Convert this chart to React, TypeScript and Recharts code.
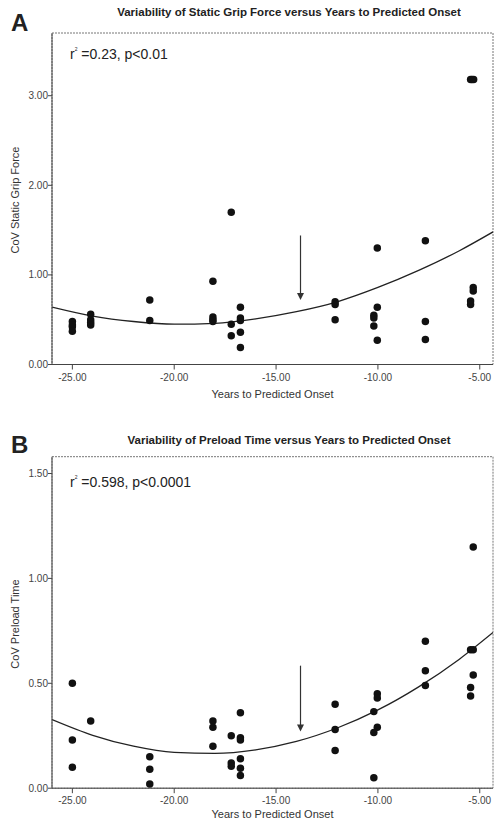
import React from "react";
import {
  ComposedChart,
  Scatter,
  Line,
  XAxis,
  YAxis,
  ZAxis,
  ReferenceArea,
  ReferenceLine,
} from "recharts";

// years to predicted onset, shared x ticks
const yearTicks = [-25, -20, -15, -10, -5];
const yearDomain: [number, number] = [-26, -4.35];

// Panel A: CoV static grip force
const gripYears = [
  -25, -25, -25, -25,
  -24.1, -24.1, -24.1, -24.1,
  -21.2, -21.2,
  -18.1, -18.1, -18.1, -18.1,
  -17.2, -17.2, -17.2,
  -16.75, -16.75, -16.75, -16.75, -16.75,
  -12.1, -12.1, -12.1,
  -10.2, -10.2, -10.2,
  -10.03, -10.03, -10.03,
  -7.67, -7.67, -7.67,
  -5.32, -5.32, -5.45, -5.45,
  -5.45, -5.38, -5.3,
];
const gripCov = [
  0.48, 0.44, 0.42, 0.37,
  0.56, 0.5, 0.47, 0.44,
  0.72, 0.49,
  0.93, 0.53, 0.5, 0.48,
  1.7, 0.45, 0.32,
  0.64, 0.52, 0.49, 0.36, 0.19,
  0.7, 0.67, 0.5,
  0.55, 0.52, 0.43,
  1.3, 0.64, 0.27,
  1.38, 0.48, 0.28,
  0.86, 0.82, 0.71, 0.67,
  3.18, 3.18, 3.18,
];
const gripFitYears = [-26, -24, -22, -20, -18, -16, -14, -12, -10, -8, -6, -4.35];
const gripFitCov = [0.64, 0.54, 0.48, 0.45, 0.46, 0.51, 0.59, 0.7, 0.86, 1.05, 1.27, 1.48];
const gripTicks = [0, 1, 2, 3];

// Panel B: CoV preload time
const preloadYears = [
  -25, -25, -25,
  -24.1,
  -21.2, -21.2, -21.2,
  -18.1, -18.1, -18.1,
  -17.2, -17.2, -17.2,
  -16.75, -16.75, -16.75, -16.75, -16.75, -16.75,
  -12.1, -12.1, -12.1,
  -10.03, -10.03, -10.03,
  -10.2, -10.2, -10.2,
  -7.67, -7.67, -7.67,
  -5.45, -5.32, -5.32, -5.32, -5.45, -5.45,
];
const preloadCov = [
  0.5, 0.23, 0.1,
  0.32,
  0.15, 0.09, 0.02,
  0.32, 0.29, 0.2,
  0.25, 0.12, 0.105,
  0.36, 0.24, 0.23, 0.14, 0.095, 0.06,
  0.4, 0.28, 0.18,
  0.45, 0.43, 0.29,
  0.365, 0.265, 0.05,
  0.7, 0.56, 0.49,
  0.66, 0.66, 1.15, 0.54, 0.48, 0.44,
];
const preloadFitYears = [-26, -24, -22, -20, -18, -16, -14, -12, -10, -8, -6, -4.35];
const preloadFitCov = [0.327, 0.252, 0.2, 0.171, 0.166, 0.183, 0.223, 0.287, 0.373, 0.483, 0.615, 0.742];
const preloadTicks = [0, 0.5, 1, 1.5];

// onset marker arrows: [year, from, to]
const gripArrow = [-13.8, 1.44, 0.72];
const preloadArrow = [-13.8, 0.584, 0.27];

const pair = (xs: number[], ys: number[]) => xs.map((x, i) => ({ x, y: ys[i] }));

const FONT = "'Liberation Sans', Arial, sans-serif";

const Arrow = (props: any) => {
  const { x1, y1, x2, y2 } = props;
  if (x1 == null) return null;
  return (
    <g>
      <line x1={x1} y1={y1} x2={x2} y2={y2 - 6} stroke="#333" strokeWidth={1.2} />
      <polygon points={`${x2 - 3.5},${y2 - 7} ${x2 + 3.5},${y2 - 7} ${x2},${y2}`} fill="#333" />
    </g>
  );
};

function Panel({
  points,
  fit,
  yMax,
  yTicks,
  arrow,
  marginTop,
  height,
}: {
  points: { x: number; y: number }[];
  fit: { x: number; y: number }[];
  yMax: number;
  yTicks: number[];
  arrow: number[];
  marginTop: number;
  height: number;
}) {
  const plotBottom = marginTop + 331.5;
  return (
    <ComposedChart
      width={494}
      height={height}
      margin={{ top: marginTop, right: 1, left: 0, bottom: height - plotBottom - 30 }}
    >
      <XAxis
        type="number"
        dataKey="x"
        domain={yearDomain}
        ticks={yearTicks}
        allowDataOverflow
        tickFormatter={(v) => Number(v).toFixed(2)}
        tick={{ fontSize: 10, fill: "#444", fontFamily: FONT }}
        tickSize={5}
        tickMargin={4}
        height={30}
        axisLine={{ stroke: "#444" }}
        tickLine={{ stroke: "#444" }}
      />
      <YAxis
        type="number"
        dataKey="y"
        domain={[0, yMax]}
        ticks={yTicks}
        allowDataOverflow
        tickFormatter={(v) => Number(v).toFixed(2)}
        tick={{ fontSize: 10, fill: "#444", fontFamily: FONT }}
        tickSize={4}
        tickMargin={0}
        width={52}
        axisLine={{ stroke: "#444" }}
        tickLine={{ stroke: "#444" }}
      />
      <ZAxis range={[44, 44]} />
      <ReferenceArea
        x1={yearDomain[0]}
        x2={yearDomain[1]}
        y1={0}
        y2={yMax}
        fill="none"
        stroke="#777"
        strokeDasharray="2 1"
      />
      <Line
        data={fit}
        dataKey="y"
        type="monotone"
        stroke="#222"
        strokeWidth={1.3}
        dot={false}
        isAnimationActive={false}
      />
      <Scatter data={points} dataKey="y" fill="#111" isAnimationActive={false} />
      <ReferenceLine
        segment={[
          { x: arrow[0], y: arrow[1] },
          { x: arrow[0], y: arrow[2] },
        ]}
        shape={Arrow}
      />
    </ComposedChart>
  );
}

const abs = (s: React.CSSProperties): React.CSSProperties => ({ position: "absolute", ...s });

export default function App() {
  return (
    <div
      style={{
        position: "absolute",
        left: 0,
        top: 0,
        width: 494,
        height: 825,
        overflow: "hidden",
        background: "#fff",
        fontFamily: FONT,
        color: "#222",
      }}
    >
      {/* Panel A */}
      <div style={abs({ left: 0, top: 0 })}>
        <Panel
          points={pair(gripYears, gripCov)}
          fit={pair(gripFitYears, gripFitCov)}
          yMax={3.7}
          yTicks={gripTicks}
          arrow={gripArrow}
          marginTop={33}
          height={410}
        />
      </div>
      <div style={abs({ left: 11, top: 9, fontSize: 24, fontWeight: "bold" })}>A</div>
      <div style={abs({ left: 52, width: 474, top: 6, textAlign: "center", fontSize: 11.5, fontWeight: "bold" })}>
        Variability of Static Grip Force versus Years to Predicted Onset
      </div>
      <div style={abs({ left: 70, top: 46, fontSize: 14 })}>
        r<sup style={{ fontSize: 5, verticalAlign: "top" }}>2</sup> =0.23, p&lt;0.01
      </div>
      <div style={abs({ left: 52, width: 441, top: 388, textAlign: "center", fontSize: 11, color: "#333" })}>
        Years to Predicted Onset
      </div>
      <div
        style={abs({
          left: 15,
          top: 200,
          fontSize: 11,
          color: "#333",
          whiteSpace: "nowrap",
          transform: "translate(-50%, -50%) rotate(-90deg)",
        })}
      >
        CoV Static Grip Force
      </div>

      {/* Panel B */}
      <div style={abs({ left: 0, top: 420 })}>
        <Panel
          points={pair(preloadYears, preloadCov)}
          fit={pair(preloadFitYears, preloadFitCov)}
          yMax={1.58}
          yTicks={preloadTicks}
          arrow={preloadArrow}
          marginTop={36.7}
          height={405}
        />
      </div>
      <div style={abs({ left: 11, top: 431, fontSize: 24, fontWeight: "bold" })}>B</div>
      <div style={abs({ left: 52, width: 474, top: 434, textAlign: "center", fontSize: 11.5, fontWeight: "bold" })}>
        Variability of Preload Time versus Years to Predicted Onset
      </div>
      <div style={abs({ left: 70, top: 474, fontSize: 14 })}>
        r<sup style={{ fontSize: 5, verticalAlign: "top" }}>2</sup> =0.598, p&lt;0.0001
      </div>
      <div style={abs({ left: 52, width: 441, top: 808, textAlign: "center", fontSize: 11, color: "#333" })}>
        Years to Predicted Onset
      </div>
      <div
        style={abs({
          left: 15,
          top: 624,
          fontSize: 11,
          color: "#333",
          whiteSpace: "nowrap",
          transform: "translate(-50%, -50%) rotate(-90deg)",
        })}
      >
        CoV Preload Time
      </div>
    </div>
  );
}
